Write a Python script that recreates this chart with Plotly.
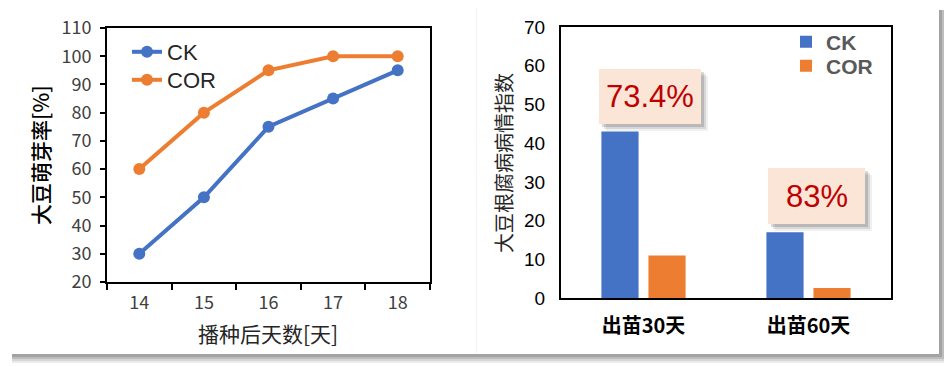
import plotly.graph_objects as go

# ---------------- data ----------------
days = ["14", "15", "16", "17", "18"]
ck_germination = [30, 50, 75, 85, 95]
cor_germination = [60, 80, 95, 100, 100]

stages = ["出苗30天", "出苗60天"]
ck_disease = [43, 17]
cor_disease = [11, 2.6]
reduction_labels = ["73.4%", "83%"]

left_ytitle = "大豆萌芽率[%]"
left_xtitle = "播种后天数[天]"
right_ytitle = "大豆根腐病病情指数"

# ---------------- style ----------------
# the page body has an 8px default margin, so the figure is drawn 8px in
OFF = 8
W, H = 952 - OFF, 367 - OFF
BLUE = "#4472C4"
ORANGE = "#ED7D31"
CJK = "Noto Sans CJK SC"
SANS = "Liberation Sans"


def px(x):
    return (x - OFF) / W


def py(y):
    return 1 - (y - OFF) / H


fig = go.Figure()

fig.add_trace(go.Scatter(x=days, y=ck_germination, name="CK", mode="lines+markers",
                         line=dict(color=BLUE, width=4), marker=dict(size=12, color=BLUE),
                         xaxis="x", yaxis="y", legend="legend"))
fig.add_trace(go.Scatter(x=days, y=cor_germination, name="COR", mode="lines+markers",
                         line=dict(color=ORANGE, width=4), marker=dict(size=12, color=ORANGE),
                         xaxis="x", yaxis="y", legend="legend2"))

fig.add_trace(go.Bar(x=stages, y=ck_disease, name="CK", marker=dict(color=BLUE, line=dict(width=0)),
                     xaxis="x2", yaxis="y2", legend="legend3"))
fig.add_trace(go.Bar(x=stages, y=cor_disease, name="COR", marker=dict(color=ORANGE, line=dict(width=0)),
                     xaxis="x2", yaxis="y2", legend="legend4"))

shapes = []


def rect(x0, y0, x1, y1, color, layer="below"):
    shapes.append(dict(type="rect", xref="paper", yref="paper",
                       x0=px(x0), x1=px(x1), y0=py(y1), y1=py(y0),
                       fillcolor=color, line=dict(width=0), layer=layer))


# card shadows
bands = [("#a3a3a3", 0, 3), ("#bdbdbd", 3, 5), ("#d6d6d6", 5, 7), ("#ececec", 7, 9)]
for c, a, b in bands:
    rect(12, 354 + a, 939 + b, 354 + b, c)
    rect(939 + a, 10, 939 + b, 354 + b, c)
# cards
rect(8, 8, 476, 354, "white")
rect(476, 8, 939, 354, "white")
rect(476, 8, 477, 354, "#f4f4f4")

# label boxes with shadows
boxes = [(599, 69, 701, 124), (768, 168, 865, 224)]
for (x0, y0, x1, y1), lab in zip(boxes, reduction_labels):
    for off, c in [(7, "rgba(0,0,0,0.06)"), (5, "rgba(0,0,0,0.10)"), (3, "rgba(0,0,0,0.14)")]:
        rect(x0 + off, y0 + off, x1 + off, y1 + off, c, layer="above")
    rect(x0, y0, x1, y1, "#FBE5D6", layer="above")

annotations = []
for (x0, y0, x1, y1), lab in zip(boxes, reduction_labels):
    annotations.append(dict(text=lab, xref="paper", yref="paper", x=px((x0 + x1) / 2), y=py((y0 + y1) / 2),
                            xanchor="center", yanchor="middle", showarrow=False,
                            font=dict(family=SANS, size=31, color="#C00000")))

annotations += [
    dict(text=left_ytitle, xref="paper", yref="paper", x=px(40), y=py(155), textangle=-90,
         xanchor="center", yanchor="middle", showarrow=False,
         font=dict(family=CJK, size=21, color="#000000", weight=500)),
    dict(text=left_xtitle, xref="paper", yref="paper", x=px(268), y=py(333),
         xanchor="center", yanchor="middle", showarrow=False,
         font=dict(family=CJK, size=21, color="#262626")),
    dict(text=right_ytitle, xref="paper", yref="paper", x=px(504), y=py(163), textangle=-90,
         xanchor="center", yanchor="middle", showarrow=False,
         font=dict(family=CJK, size=20, color="#262626")),
]

axis_common = dict(showline=True, linecolor="black", linewidth=2, mirror=True, showgrid=False,
                   zeroline=False, fixedrange=True, automargin=False)

left_leg = dict(xanchor="left", yanchor="middle", bgcolor="rgba(0,0,0,0)",
                font=dict(family=SANS, size=22, color="#262626"))
right_leg = dict(xanchor="left", yanchor="middle", bgcolor="rgba(0,0,0,0)",
                 font=dict(family=SANS, size=21, color="#595959", weight="bold"))

fig.update_layout(
    width=W, height=H, margin=dict(l=0, r=0, t=0, b=0, autoexpand=False),
    paper_bgcolor="white", plot_bgcolor="rgba(0,0,0,0)",
    barmode="group", bargap=0.43, bargroupgap=0.21,
    xaxis=dict(domain=[px(107), px(430)], anchor="y", type="category", range=[-0.5, 4.5],
               ticks="outside", tickson="boundaries", ticklen=6, tickwidth=2, tickcolor="black",
               ticklabelstandoff=3,
               tickfont=dict(family=CJK, size=18, color="#404040"), **axis_common),
    yaxis=dict(domain=[py(282), py(28)], anchor="x", range=[20, 110], dtick=10,
               ticks="outside", ticklen=5, tickwidth=2, tickcolor="black",
               ticklabelstandoff=5,
               tickfont=dict(family=CJK, size=18, color="#404040"), **axis_common),
    xaxis2=dict(domain=[px(561), px(891)], anchor="y2", type="category", range=[-0.5, 1.5],
                ticks="", ticklabelstandoff=9,
                tickfont=dict(family=CJK, size=20, color="#000000", weight="bold"),
                **axis_common),
    yaxis2=dict(domain=[py(298), py(27)], anchor="x2", range=[0, 70], dtick=10, ticks="",
                ticklabelstandoff=10,
                tickfont=dict(family=SANS, size=19, color="#000000"), **axis_common),
    legend=dict(x=px(127), y=py(52), **left_leg),
    legend2=dict(x=px(127), y=py(80), **left_leg),
    legend3=dict(x=px(786), y=py(42), **right_leg),
    legend4=dict(x=px(786), y=py(66), **right_leg),
    shapes=shapes, annotations=annotations, showlegend=True,
)

fig.write_html("out.html")
